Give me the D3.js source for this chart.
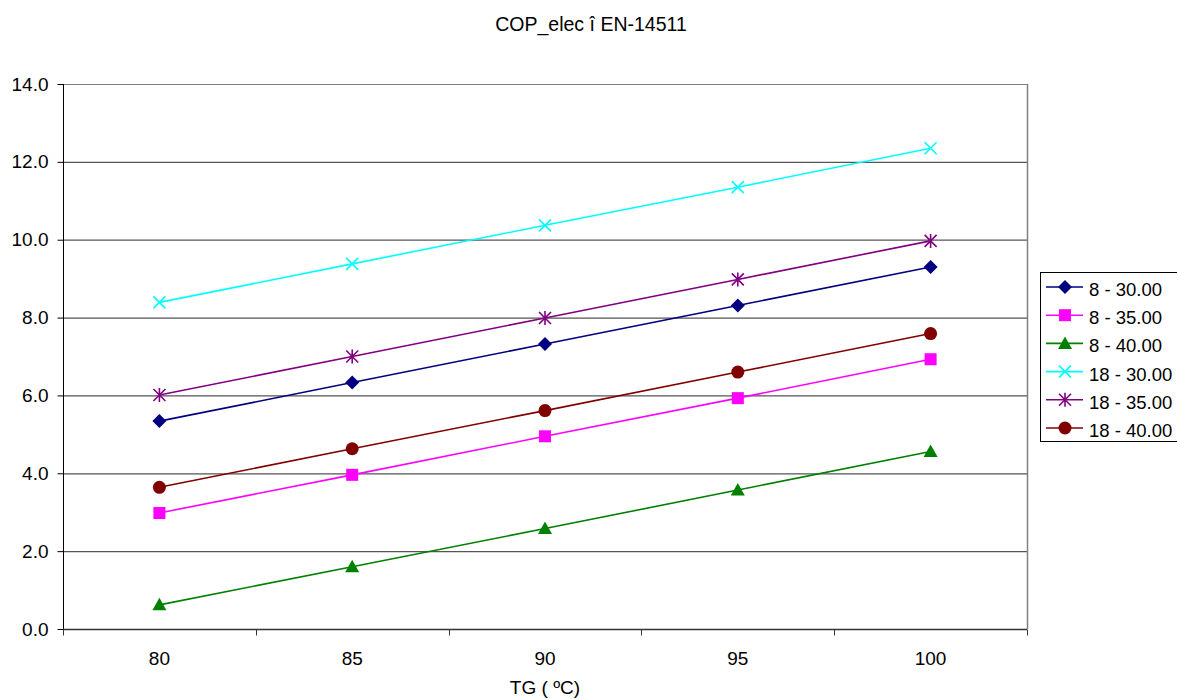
<!DOCTYPE html>
<html>
<head>
<meta charset="utf-8">
<script src="https://cdn.jsdelivr.net/npm/d3@7"></script>
<style>
  body { margin: 0; background: #fff; }
  svg { display: block; font-family: "Liberation Sans", Arial, sans-serif; }
</style>
</head>
<body>
<svg id="chart" width="1177" height="699"></svg>
<script>
// TG temperatures on the category axis
const categories = [80, 85, 90, 95, 100];
// COP_elec per series
const seriesNames = ["8 - 30.00", "8 - 35.00", "8 - 40.00", "18 - 30.00", "18 - 35.00", "18 - 40.00"];
const s8_30  = [5.34, 6.33, 7.32, 8.31, 9.30];
const s8_35  = [2.98, 3.96, 4.95, 5.93, 6.93];
const s8_40  = [0.62, 1.60, 2.58, 3.57, 4.56];
const s18_30 = [8.39, 9.38, 10.37, 11.35, 12.35];
const s18_35 = [6.01, 7.00, 7.99, 8.98, 9.97];
const s18_40 = [3.64, 4.63, 5.61, 6.60, 7.59];
const yTicks = [0, 2, 4, 6, 8, 10, 12, 14];

const seriesValues = [s8_30, s8_35, s8_40, s18_30, s18_35, s18_40];
const colors = ["#000080", "#ff00ff", "#008000", "#00ffff", "#800080", "#800000"];
const markers = ["diamond", "square", "triangle", "x", "star", "circle"];

const svg = d3.select("#chart");
const plotL = 63, plotR = 1027, plotT = 84, plotB = 629;
const fs = 19;

const x = d3.scaleBand().domain(categories).range([plotL, plotR]);
const y = d3.scaleLinear().domain([0, 14]).range([plotB, plotT]);

// gridlines
svg.append("g").selectAll("line").data(yTicks.filter(d => d > 0)).join("line")
  .attr("x1", plotL).attr("x2", plotR)
  .attr("y1", d => y(d) + 0.5).attr("y2", d => y(d) + 0.5)
  .attr("stroke", d => d === 14 ? "#808080" : "#555").attr("stroke-width", 1.2);

// plot frame right side
svg.append("line").attr("x1", plotR + 0.5).attr("x2", plotR + 0.5)
  .attr("y1", plotT).attr("y2", plotB).attr("stroke", "#808080").attr("stroke-width", 1.5);

// y axis
const yAxis = d3.axisLeft(y).tickValues(yTicks).tickFormat(d3.format(".1f")).tickSize(6).tickPadding(9);
const yg = svg.append("g").attr("transform", `translate(${plotL + 0.5},0)`).call(yAxis);
yg.select(".domain").attr("stroke", "#000").attr("d", `M0,${plotT}V${plotB}`);
yg.selectAll(".tick line").attr("stroke", "#000");
yg.selectAll(".tick text").attr("font-size", fs).attr("fill", "#000")
  .attr("font-family", "Liberation Sans, Arial, sans-serif");

// x axis: labels at category centres, tick marks at category boundaries
const xg = svg.append("g").attr("transform", `translate(0,${plotB + 0.5})`);
xg.append("line").attr("x1", plotL).attr("x2", plotR).attr("stroke", "#333").attr("stroke-width", 1.5);
const bounds = categories.map(c => x(c)).concat([plotR]);
xg.selectAll("line.t").data(bounds).join("line").attr("class", "t")
  .attr("x1", d => Math.round(d) + 0.5).attr("x2", d => Math.round(d) + 0.5)
  .attr("y1", 0).attr("y2", 6).attr("stroke", "#333");
xg.selectAll("text").data(categories).join("text")
  .attr("x", d => x(d) + x.bandwidth() / 2).attr("y", 35)
  .attr("text-anchor", "middle").attr("font-size", fs).text(d => d);

// axis title and chart title
svg.append("text").attr("x", 545).attr("y", 694).attr("text-anchor", "middle")
  .attr("font-size", fs).text("TG ( ºC)");
svg.append("text").attr("x", 591).attr("y", 31).attr("text-anchor", "middle")
  .attr("font-size", 19.5).text("COP_elec î EN-14511");

function drawMarker(g, type, color) {
  if (type === "diamond") g.append("path").attr("d", "M0,-7L7,0L0,7L-7,0Z").attr("fill", color);
  else if (type === "square") g.append("rect").attr("x", -6).attr("y", -6).attr("width", 12).attr("height", 12).attr("fill", color);
  else if (type === "triangle") g.append("path").attr("d", "M0,-7L7,5.5L-7,5.5Z").attr("fill", color);
  else if (type === "circle") g.append("circle").attr("r", 6.5).attr("fill", color);
  else if (type === "x") g.append("path").attr("d", "M-6,-6L6,6M-6,6L6,-6").attr("stroke", color).attr("stroke-width", 1.6).attr("fill", "none");
  else if (type === "star") g.append("path").attr("d", "M-6,-6L6,6M-6,6L6,-6M0,-7V7").attr("stroke", color).attr("stroke-width", 1.6).attr("fill", "none");
}

const cx = c => x(c) + x.bandwidth() / 2;
const line = d3.line().x((d, i) => cx(categories[i])).y(d => y(d));

seriesValues.forEach((vals, si) => {
  const g = svg.append("g");
  g.append("path").datum(vals).attr("d", line).attr("fill", "none")
    .attr("stroke", colors[si]).attr("stroke-width", 1.6);
  vals.forEach((v, i) => {
    const m = g.append("g").attr("transform", `translate(${cx(categories[i])},${y(v)})`);
    drawMarker(m, markers[si], colors[si]);
  });
});

// legend
const lg = svg.append("g").attr("transform", "translate(1040,272)");
lg.append("rect").attr("x", 0.5).attr("y", 0.5).attr("width", 145).attr("height", 169)
  .attr("fill", "#fff").attr("stroke", "#000").attr("stroke-width", 1);
seriesNames.forEach((name, si) => {
  const yy = 15 + si * 28.2;
  lg.append("line").attr("x1", 6).attr("x2", 43).attr("y1", yy).attr("y2", yy)
    .attr("stroke", colors[si]).attr("stroke-width", 1.6);
  const m = lg.append("g").attr("transform", `translate(25,${yy})`);
  drawMarker(m, markers[si], colors[si]);
  lg.append("text").attr("x", 49).attr("y", yy + 9).attr("font-size", 18.5).text(name);
});
</script>
</body>
</html>
